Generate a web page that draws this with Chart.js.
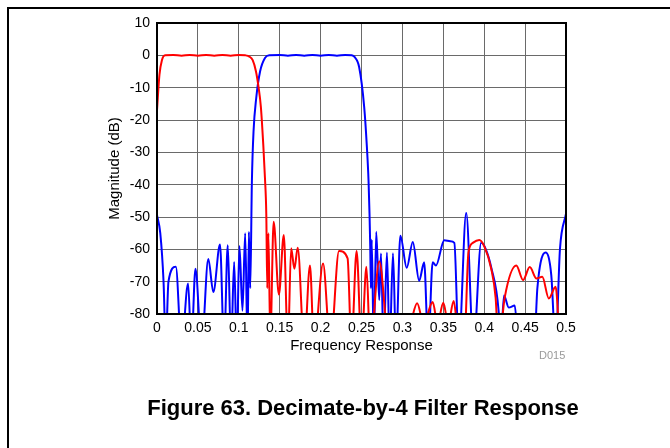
<!DOCTYPE html>
<html>
<head>
<meta charset="utf-8">
<script src="https://cdn.jsdelivr.net/npm/chart.js@4.4.0/dist/chart.umd.min.js"></script>
<style>
  body { margin: 0; background: #fff; }
  #wrap { position: relative; width: 670px; height: 448px; overflow: hidden; font-family: "Liberation Sans", Arial, sans-serif; }
  #frame { position: absolute; left: 7px; top: 7px; width: 700px; height: 500px; border-top: 2px solid #000; border-left: 2px solid #000; }
  #chart { position: absolute; left: 0; top: 0; }
  #code { position: absolute; left: 539px; top: 349px; font-size: 11px; color: #9a9a9a; }
  #caption { position: absolute; left: 0; width: 726px; top: 395px; text-align: center; font-size: 22px; font-weight: bold; color: #000; }
</style>
</head>
<body>
<div id="wrap">
  <div id="frame"></div>
  <canvas id="chart" width="670" height="448"></canvas>
  <div id="code">D015</div>
  <div id="caption">Figure 63. Decimate-by-4 Filter Response</div>
</div>
<script>
// low-pass (red) response
const redFreq = [0, 0.003, 0.006, 0.01, 0.02, 0.03, 0.04, 0.05, 0.06, 0.07, 0.08, 0.09, 0.1, 0.108, 0.113,
  0.117, 0.121, 0.124, 0.127, 0.13, 0.132, 0.1336, 0.1348, 0.1362, 0.1385, 0.1426, 0.149, 0.155, 0.16,
  0.164, 0.168, 0.172, 0.18, 0.187, 0.192, 0.203, 0.212, 0.2225, 0.233, 0.2377, 0.244, 0.25, 0.256,
  0.2607, 0.2717, 0.284, 0.30, 0.31, 0.318, 0.326, 0.337, 0.343, 0.35, 0.356, 0.3627, 0.3676, 0.3758,
  0.3807, 0.386, 0.394, 0.40, 0.4086, 0.414, 0.4176, 0.425, 0.4393, 0.4475, 0.4557, 0.4639, 0.471,
  0.479, 0.4873, 0.4934, 0.5];
const redMag = [-17, -6, -1.5, 0, 0.1, -0.1, 0.1, -0.1, 0.1, -0.1, 0.1, -0.1, 0.1, 0, -0.4,
  -1.5, -5, -9.6, -16, -28, -38, -49, -72, -55, -88, -51.5, -74, -55.6, -90,
  -59.7, -66, -59.5, -90, -65, -90, -64.4, -90, -60.5, -62.8, -90, -60.5, -90, -65.4,
  -90, -63.7, -90, -90, -83, -76.7, -83, -76.3, -83, -76.5, -83, -76, -85, -88,
  -61, -58, -57.1, -59, -66, -75, -90, -75, -65, -69.5, -65.5, -69, -68.5,
  -75.2, -71.6, -90, -90];

// band-pass (blue) response
const blueFreq = [0, 0.004, 0.008, 0.0107, 0.014, 0.023, 0.03, 0.038, 0.042, 0.047, 0.0545, 0.0627,
  0.0689, 0.077, 0.082, 0.0865, 0.0906, 0.0943, 0.0975, 0.1008, 0.1045, 0.1078, 0.1107, 0.1123, 0.114,
  0.116, 0.118, 0.1213, 0.126, 0.132, 0.1377, 0.15, 0.16, 0.17, 0.18, 0.19, 0.2, 0.21, 0.22, 0.23,
  0.238, 0.2415, 0.2471, 0.2533, 0.2566, 0.2586, 0.2598, 0.2607, 0.2615, 0.2625, 0.265, 0.268, 0.2717,
  0.2738, 0.277, 0.2811, 0.2844, 0.2885, 0.2922, 0.2975, 0.3053, 0.3127, 0.3205, 0.3266, 0.3316, 0.337,
  0.341, 0.3512, 0.3585, 0.3635, 0.3689, 0.378, 0.3869, 0.3963, 0.402, 0.4086, 0.4176, 0.42, 0.4242,
  0.43, 0.4373, 0.4422, 0.4611, 0.465, 0.475, 0.482, 0.4873, 0.4926, 0.5];
const blueMag = [-49.4, -55, -70, -90, -70, -65.4, -90, -70.6, -90, -66, -90, -63,
  -73.2, -58.5, -90, -58.7, -90, -63.9, -90, -59, -79, -55, -90, -54.6, -72,
  -39, -23.6, -13.2, -5, -0.8, 0, 0.1, -0.1, 0.1, -0.1, 0.1, -0.1, 0.1, -0.1, 0.1,
  0, -0.5, -3.6, -16, -28.4, -38.7, -49, -59.4, -72, -57, -90, -54.6, -75.7,
  -61.3, -90, -61, -90, -61.2, -90, -55.8, -65.7, -57.7, -69.7, -64, -90, -64,
  -65, -57.2, -57.5, -58, -90, -48.8, -90, -58, -60, -65.6, -79, -90, -74.3,
  -78, -77.4, -90, -90, -72, -61, -68, -90, -60, -49];

const xTickValues = [0, 0.05, 0.1, 0.15, 0.2, 0.25, 0.3, 0.35, 0.4, 0.45, 0.5];
const yTickValues = [-80, -70, -60, -50, -40, -30, -20, -10, 0, 10];

const toPoints = (xs, ys) => xs.map((x, i) => ({ x: x, y: ys[i] }));

const boxPlugin = {
  id: 'box',
  afterDatasetsDraw(chart) {
    const a = chart.chartArea, c = chart.ctx;
    c.save();
    c.strokeStyle = '#000';
    c.lineWidth = 2;
    c.strokeRect(a.left, a.top, a.right - a.left, a.bottom - a.top);
    c.restore();
  }
};

const tickFont = { family: '"Liberation Sans", Arial, sans-serif', size: 14 };
const titleFont = { family: '"Liberation Sans", Arial, sans-serif', size: 15 };

new Chart(document.getElementById('chart'), {
  type: 'line',
  data: {
    datasets: [
      { data: toPoints(redFreq, redMag), borderColor: '#ff0000', borderWidth: 2, pointRadius: 0, cubicInterpolationMode: 'monotone', clip: 0 },
      { data: toPoints(blueFreq, blueMag), borderColor: '#0000ff', borderWidth: 2, pointRadius: 0, cubicInterpolationMode: 'monotone', clip: 0 }
    ]
  },
  options: {
    responsive: false,
    animation: false,
    layout: { padding: { left: 102, top: 23, right: 104, bottom: 89 } },
    plugins: { legend: { display: false }, tooltip: { enabled: false } },
    scales: {
      x: {
        type: 'linear', min: 0, max: 0.5,
        afterFit: s => { s.height = 45; },
        afterBuildTicks: s => { s.ticks = xTickValues.map(v => ({ value: v })); },
        grid: { color: '#6a6a6a', lineWidth: 1, drawTicks: false },
        border: { display: false },
        ticks: { color: '#000', font: tickFont, padding: 6, maxRotation: 0, callback: v => String(Math.round(v * 100) / 100) },
        title: { display: true, text: 'Frequency Response', color: '#000', font: titleFont, padding: { top: 2, bottom: 4 } }
      },
      y: {
        min: -80, max: 10,
        afterFit: s => { s.width = 55; },
        afterBuildTicks: s => { s.ticks = yTickValues.map(v => ({ value: v })); },
        grid: { color: '#6a6a6a', lineWidth: 1, drawTicks: false },
        border: { display: false },
        ticks: { color: '#000', font: tickFont, padding: 7 },
        title: { display: true, text: 'Magnitude (dB)', color: '#000', font: titleFont, padding: 4 }
      }
    }
  },
  plugins: [boxPlugin]
});
</script>
</body>
</html>
